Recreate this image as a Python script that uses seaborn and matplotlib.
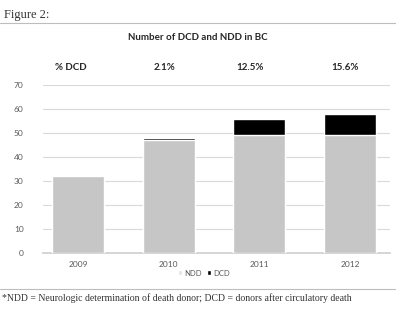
import numpy as np
import pandas as pd
import matplotlib
matplotlib.use("Agg")
import matplotlib.pyplot as plt
import seaborn as sns
from matplotlib.patches import Patch

# 데이터
years = ["2009", "2010", "2011", "2012"]
ndd = [32, 47, 49, 49]
dcd = [0, 1, 7, 9]
pct_labels = ["% DCD", "2.1%", "12.5%", "15.6%"]

sns.set_theme(style="white")
plt.rcParams['font.family'] = ['Lato', 'DejaVu Sans']

df = pd.DataFrame({"year": years, "NDD": ndd, "DCD": dcd})
df["total"] = df["NDD"] + df["DCD"]

fig = plt.figure(figsize=(3.96, 3.11), dpi=100)
ax = fig.add_axes([43 / 396, 1 - 253 / 311, 347 / 396, 168 / 311])

sns.barplot(data=df, x="year", y="total", color="#000000", width=0.573,
            saturation=1, ax=ax, zorder=3)
sns.barplot(data=df, x="year", y="NDD", color="#c6c6c6", width=0.573,
            saturation=1, ax=ax, zorder=4)

ax.set_xlim(-0.386, 3.441)
ax.set_ylim(0, 70)
ax.set_yticks(range(0, 71, 10))
ax.yaxis.grid(True, color="#d9d9d9", linewidth=0.8, zorder=0)
ax.set_axisbelow(True)
for s in ["top", "right", "left"]:
    ax.spines[s].set_visible(False)
ax.spines["bottom"].set_color("#d0d0d0")
ax.tick_params(axis="both", length=0, labelsize=6, colors="#595959")
ax.tick_params(axis="y", pad=14)
ax.tick_params(axis="x", pad=6)
ax.set_xlabel("")
ax.set_ylabel("")

# % DCD 행
trans = matplotlib.transforms.blended_transform_factory(ax.transData, fig.transFigure)
xs = [-0.08, -0.05, -0.1, -0.05]
for i, lab in enumerate(pct_labels):
    ax.text(i + xs[i], 1 - 68 / 311, lab, transform=trans, ha="center", va="center",
            fontsize=7, fontweight="bold", color="#262626")

fig.text(0.5, 1 - 38 / 311, "Number of DCD and NDD in BC", ha="center", va="center",
         fontsize=7, fontweight="bold", color="#262626")

# 범례
handles = [Patch(facecolor="#e3e3e3", label="NDD"), Patch(facecolor="#000000", label="DCD")]
fig.legend(handles=handles, loc="center", bbox_to_anchor=(0.515, 1 - 273 / 311), ncol=2,
           frameon=False, fontsize=5.5, handlelength=0.6, handleheight=0.6,
           handletextpad=0.3, columnspacing=0.6, labelcolor="#595959")

# 그림 제목 및 각주
fig.text(0.01, 1 - 15 / 311, "Figure 2:", ha="left", va="center", fontsize=9,
         family=["Liberation Serif"], color="#333333")
fig.add_artist(plt.Line2D([0, 1], [1 - 23 / 311, 1 - 23 / 311], color="#bdbdbd", linewidth=0.8))
fig.add_artist(plt.Line2D([0, 1], [1 - 289 / 311, 1 - 289 / 311], color="#bdbdbd", linewidth=0.8))
fig.text(0.005, 1 - 298 / 311,
         "*NDD = Neurologic determination of death donor; DCD = donors after circulatory death",
         ha="left", va="center", fontsize=7, family=["Liberation Serif"], color="#333333")

fig.savefig("out.png", dpi=100)
